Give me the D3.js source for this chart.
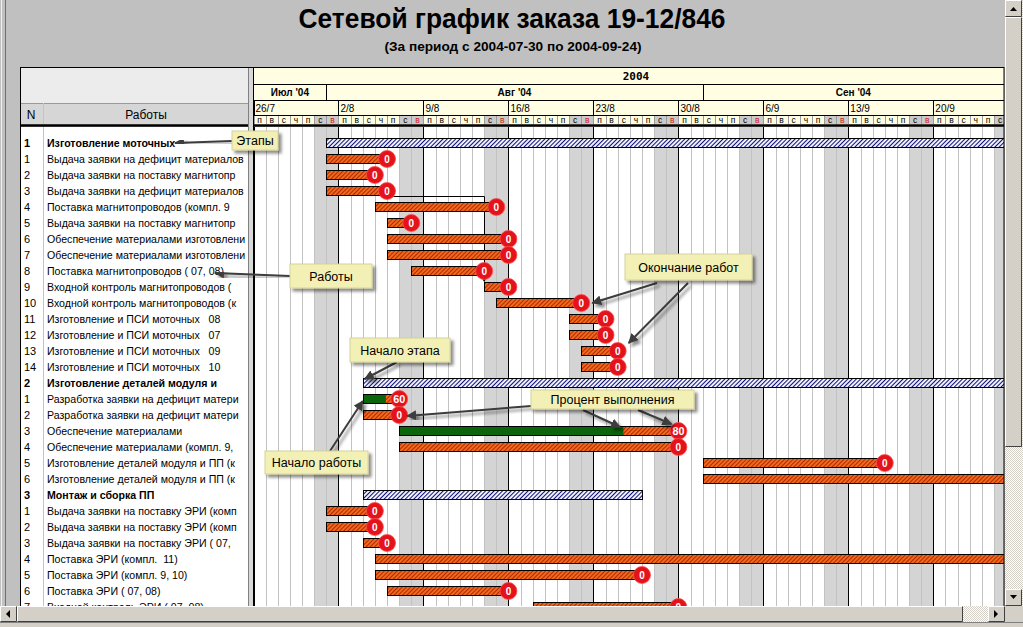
<!DOCTYPE html>
<html>
<head>
<meta charset="utf-8">
<script src="https://cdn.jsdelivr.net/npm/d3@7"></script>
<style>
  html, body { margin: 0; padding: 0; background: #c0c0c0; overflow: hidden; }
  svg { display: block; font-family: "Liberation Sans", Arial, sans-serif; }
</style>
</head>
<body>
<svg id="chart" width="1023" height="627"></svg>
<script>
// ---- data ----
const rowNums = ['1','1','2','3','4','5','6','7','8','9','10','11','12','13','14',
  '2','1','2','3','4','5','6',
  '3','1','2','3','4','5','6','7'];
const taskNames = [
  'Изготовление моточных',
  'Выдача заявки на дефицит материалов',
  'Выдача заявки на поставку магнитопр',
  'Выдача заявки на дефицит материалов',
  'Поставка магнитопроводов (компл. 9',
  'Выдача заявки на поставку магнитопр',
  'Обеспечение материалами изготовлени',
  'Обеспечение материалами изготовлени',
  'Поставка магнитопроводов ( 07, 08)',
  'Входной контроль магнитопроводов (',
  'Входной контроль магнитопроводов (к',
  'Изготовление и ПСИ моточных   08',
  'Изготовление и ПСИ моточных   07',
  'Изготовление и ПСИ моточных   09',
  'Изготовление и ПСИ моточных   10',
  'Изготовление деталей модуля и',
  'Разработка заявки на дефицит матери',
  'Разработка заявки на дефицит матери',
  'Обеспечение материалами',
  'Обеспечение материалами (компл. 9,',
  'Изготовление деталей модуля и ПП (к',
  'Изготовление деталей модуля и ПП (к',
  'Монтаж и сборка ПП',
  'Выдача заявки на поставку ЭРИ (комп',
  'Выдача заявки на поставку ЭРИ (комп',
  'Выдача заявки на поставку ЭРИ ( 07,',
  'Поставка ЭРИ (компл.  11)',
  'Поставка ЭРИ (компл. 9, 10)',
  'Поставка ЭРИ ( 07, 08)',
  'Входной контроль ЭРИ ( 07, 08)'
];
const rowKinds = ['stage','task','task','task','task','task','task','task','task','task','task','task','task','task','task',
  'stage','task','task','task','task','task','task',
  'stage','task','task','task','task','task','task','task'];
const startDates = ['2004-08-01','2004-08-01','2004-08-01','2004-08-01','2004-08-05','2004-08-06','2004-08-06','2004-08-06',
  '2004-08-08','2004-08-14','2004-08-15','2004-08-21','2004-08-21','2004-08-22','2004-08-22',
  '2004-08-04','2004-08-04','2004-08-04','2004-08-07','2004-08-07','2004-09-01','2004-09-01',
  '2004-08-04','2004-08-01','2004-08-01','2004-08-04','2004-08-05','2004-08-05','2004-08-06','2004-08-18'];
const endDates = ['2004-10-08','2004-08-06','2004-08-05','2004-08-06','2004-08-15','2004-08-08','2004-08-16','2004-08-16',
  '2004-08-14','2004-08-16','2004-08-22','2004-08-24','2004-08-24','2004-08-25','2004-08-25',
  '2004-10-08','2004-08-07','2004-08-07','2004-08-30','2004-08-30','2004-09-16','2004-10-05',
  '2004-08-27','2004-08-05','2004-08-05','2004-08-06','2004-10-05','2004-08-27','2004-08-16','2004-08-30'];
const donePct = [0,0,0,0,0,0,0,0,0,0,0,0,0,0,0,
  0,60,0,80,0,0,0,
  0,0,0,0,0,0,0,0];
const dayLetters = ['п','в','с','ч','п','с','в'];
const monthLabels = ["Июл '04", "Авг '04", "Сен '04"];
const yearLabel = '2004';

const svg = d3.select('#chart');
const W = 1023, H = 627;
const gLeft = 253.5, gRight = 1004, dayW = 12.14;
const gTop = 67, bodyTop = 127, gBottom = 606;
const t0 = new Date('2004-07-26'), t1 = new Date('2004-09-27');
const x = d3.scaleUtc().domain([t0, t1]).range([gLeft, gLeft + 63 * dayW]);
const y = d3.scaleLinear().domain([0, 1]).range([143, 159]);

const rows = taskNames.map((name, i) => ({
  i, num: rowNums[i], name, kind: rowKinds[i],
  start: new Date(startDates[i]), end: new Date(endDates[i]), pct: donePct[i]
}));

// ---- defs ----
const defs = svg.append('defs');
const hT = defs.append('pattern').attr('id', 'hatchTask').attr('patternUnits', 'userSpaceOnUse')
  .attr('width', 3).attr('height', 3).attr('patternTransform', 'rotate(45)');
hT.append('rect').attr('width', 3).attr('height', 3).attr('fill', '#f06a1e');
hT.append('line').attr('x1', 0.5).attr('x2', 0.5).attr('y1', 0).attr('y2', 3).attr('stroke', '#b02a00').attr('stroke-width', 1.1);
const hS = defs.append('pattern').attr('id', 'hatchStage').attr('patternUnits', 'userSpaceOnUse')
  .attr('width', 3).attr('height', 3).attr('patternTransform', 'rotate(45)');
hS.append('rect').attr('width', 3).attr('height', 3).attr('fill', '#f4f6ff');
hS.append('line').attr('x1', 0.5).attr('x2', 0.5).attr('y1', 0).attr('y2', 3).attr('stroke', '#10107a').attr('stroke-width', 1.1);
const chk = defs.append('pattern').attr('id', 'checker').attr('patternUnits', 'userSpaceOnUse').attr('width', 2).attr('height', 2);
chk.append('rect').attr('width', 2).attr('height', 2).attr('fill', '#ffffff');
chk.append('rect').attr('width', 1).attr('height', 1).attr('fill', '#d4d0c8');
chk.append('rect').attr('x', 1).attr('y', 1).attr('width', 1).attr('height', 1).attr('fill', '#d4d0c8');
defs.append('clipPath').attr('id', 'clipChart').append('rect')
  .attr('x', gLeft).attr('y', gTop).attr('width', gRight - gLeft).attr('height', gBottom - gTop);
defs.append('clipPath').attr('id', 'clipNames').append('rect')
  .attr('x', 44).attr('y', bodyTop).attr('width', 205).attr('height', gBottom - bodyTop);
const shadow = defs.append('filter').attr('id', 'shadow').attr('x', '-20%').attr('y', '-20%').attr('width', '150%').attr('height', '160%');
shadow.append('feDropShadow').attr('dx', 3).attr('dy', 3).attr('stdDeviation', 1.6)
  .attr('flood-color', '#000').attr('flood-opacity', 0.45);
defs.append('marker').attr('id', 'arrow').attr('viewBox', '0 0 10 10').attr('refX', 9).attr('refY', 5)
  .attr('markerWidth', 5).attr('markerHeight', 5).attr('orient', 'auto-start-reverse')
  .append('path').attr('d', 'M0,0L10,5L0,10Z').attr('fill', '#3c3c3c');

// ---- background + title ----
svg.append('rect').attr('width', W).attr('height', H).attr('fill', '#c0c0c0');
svg.append('line').attr('x1', 5.5).attr('x2', 5.5).attr('y1', 0).attr('y2', gBottom).attr('stroke', '#707070');
svg.append('line').attr('x1', 1.5).attr('x2', 1.5).attr('y1', 0).attr('y2', gBottom).attr('stroke', '#f0f0f0');

svg.append('text').attr('x', 512).attr('y', 28).attr('text-anchor', 'middle')
  .attr('font-size', 28).attr('font-weight', 'bold')
  .attr('textLength', 427).attr('lengthAdjust', 'spacingAndGlyphs')
  .text('Сетевой график заказа 19-12/846');
svg.append('text').attr('x', 513).attr('y', 51).attr('text-anchor', 'middle')
  .attr('font-size', 12.5).attr('font-weight', 'bold')
  .attr('textLength', 257).attr('lengthAdjust', 'spacingAndGlyphs')
  .text('(За период с 2004-07-30 по 2004-09-24)');

// ---- left table ----
const tbl = svg.append('g');
tbl.append('rect').attr('x', 20).attr('y', gTop).attr('width', 229).attr('height', 36).attr('fill', '#ececec');
tbl.append('rect').attr('x', 20).attr('y', 103).attr('width', 229).attr('height', 22).attr('fill', '#d6d6d6');
tbl.append('line').attr('x1', 20).attr('x2', 249).attr('y1', 103.5).attr('y2', 103.5).attr('stroke', '#9a9a9a');
tbl.append('rect').attr('x', 20).attr('y', bodyTop).attr('width', 229).attr('height', gBottom - bodyTop).attr('fill', '#fff');
tbl.append('line').attr('x1', 43.5).attr('x2', 43.5).attr('y1', 103).attr('y2', gBottom).attr('stroke', '#c4c4c4');
tbl.append('text').attr('x', 31).attr('y', 119).attr('text-anchor', 'middle').attr('font-size', 12).text('N');
tbl.append('text').attr('x', 146).attr('y', 119).attr('text-anchor', 'middle').attr('font-size', 12).text('Работы');

tbl.selectAll('text.num').data(rows).join('text').attr('class', 'num')
  .attr('x', 24).attr('y', d => y(d.i) + 4)
  .attr('font-size', 11).attr('font-weight', d => d.kind === 'stage' ? 'bold' : 'normal')
  .text(d => d.num);
tbl.append('g').attr('clip-path', 'url(#clipNames)')
  .selectAll('text').data(rows).join('text')
  .attr('x', 47).attr('y', d => y(d.i) + 4)
  .attr('font-size', 10.6).attr('font-weight', d => d.kind === 'stage' ? 'bold' : 'normal')
  .style('white-space', 'pre')
  .text(d => d.name);

// ---- chart header ----
const days = d3.utcDay.range(t0, t1);
const hdr = svg.append('g').attr('clip-path', 'url(#clipChart)');
hdr.append('rect').attr('x', gLeft).attr('y', gTop).attr('width', gRight - gLeft).attr('height', 58).attr('fill', '#fffde2');
hdr.selectAll('rect.we').data(days.filter(d => d.getUTCDay() === 0 || d.getUTCDay() === 6)).join('rect')
  .attr('class', 'we').attr('x', d => x(d)).attr('y', 115).attr('width', dayW).attr('height', 9).attr('fill', '#cacaca');
hdr.selectAll('line.dl').data(days).join('line').attr('class', 'dl')
  .attr('x1', d => Math.round(x(d)) + 0.5).attr('x2', d => Math.round(x(d)) + 0.5)
  .attr('y1', 115).attr('y2', 124).attr('stroke', '#9a9a9a');
hdr.selectAll('text.dlet').data(days).join('text').attr('class', 'dlet')
  .attr('x', d => x(d) + dayW / 2).attr('y', 122.5).attr('text-anchor', 'middle').attr('font-size', 8.5)
  .attr('fill', d => d.getUTCDay() === 0 ? '#d02020' : '#000')
  .text(d => dayLetters[(d.getUTCDay() + 6) % 7]);

const mondays = d3.utcMonday.range(t0, t1);
hdr.selectAll('line.wk').data(mondays).join('line').attr('class', 'wk')
  .attr('x1', d => Math.round(x(d)) + 0.5).attr('x2', d => Math.round(x(d)) + 0.5)
  .attr('y1', 100).attr('y2', 115).attr('stroke', '#000');
hdr.selectAll('text.wk').data(mondays).join('text').attr('class', 'wk')
  .attr('x', d => x(d) + 2).attr('y', 112).attr('font-size', 10)
  .text(d3.utcFormat('%-d/%-m'));

const months = d3.utcMonth.range(d3.utcMonth.floor(t0), t1);
hdr.selectAll('line.mo').data(months.slice(1)).join('line').attr('class', 'mo')
  .attr('x1', d => Math.round(x(d)) + 0.5).attr('x2', d => Math.round(x(d)) + 0.5)
  .attr('y1', 84).attr('y2', 100).attr('stroke', '#000');
hdr.selectAll('text.mo').data(months).join('text').attr('class', 'mo')
  .attr('x', d => {
    const a = Math.max(gLeft, x(d)), b = Math.min(gRight, x(d3.utcMonth.offset(d, 1)));
    return (a + b) / 2;
  })
  .attr('y', 96).attr('text-anchor', 'middle').attr('font-size', 10).attr('font-weight', 'bold')
  .text((d, i) => monthLabels[i]);
hdr.append('text').attr('x', 636).attr('y', 80).attr('text-anchor', 'middle')
  .attr('font-size', 11).attr('font-weight', 'bold').attr('font-family', '"DejaVu Sans Mono", monospace')
  .text(yearLabel);
[84.5, 100.5, 115.5].forEach(v => hdr.append('line').attr('x1', gLeft).attr('x2', gRight)
  .attr('y1', v).attr('y2', v).attr('stroke', '#000'));

// ---- chart body grid ----
const body = svg.append('g').attr('clip-path', 'url(#clipChart)');
body.append('rect').attr('x', gLeft).attr('y', bodyTop).attr('width', gRight - gLeft).attr('height', gBottom - bodyTop).attr('fill', '#fff');
body.selectAll('rect.we').data(days.filter(d => d.getUTCDay() === 0 || d.getUTCDay() === 6)).join('rect')
  .attr('class', 'we').attr('x', d => x(d)).attr('y', bodyTop).attr('width', dayW)
  .attr('height', gBottom - bodyTop).attr('fill', '#d4d4d4');
body.selectAll('line.dl').data(days).join('line').attr('class', 'dl')
  .attr('x1', d => Math.round(x(d)) + 0.5).attr('x2', d => Math.round(x(d)) + 0.5)
  .attr('y1', bodyTop).attr('y2', gBottom).attr('stroke', '#c2c2c2');
body.selectAll('line.wk').data(mondays).join('line').attr('class', 'wk')
  .attr('x1', d => Math.round(x(d)) + 0.5).attr('x2', d => Math.round(x(d)) + 0.5)
  .attr('y1', bodyTop).attr('y2', gBottom).attr('stroke', '#000');

// dependency link (row 3 -> row 9)
body.append('path')
  .attr('d', `M${x(rows[3].end)},196.5H${Math.round(x(rows[9].start)) + 0.5}V${y(9) - 6}`)
  .attr('fill', 'none').attr('stroke', '#000');
body.append('path')
  .attr('d', `M${x(rows[9].start) - 3},${y(9) - 10}L${x(rows[9].start) + 3},${y(9) - 10}L${x(rows[9].start)},${y(9) - 5}Z`)
  .attr('fill', '#000');

// ---- bars ----
const bars = body.append('g');
bars.selectAll('rect.bar').data(rows).join('rect').attr('class', 'bar')
  .attr('x', d => Math.round(x(d.start)) + 0.5)
  .attr('y', d => y(d.i) - 4.5)
  .attr('width', d => x(d.end) - Math.round(x(d.start)))
  .attr('height', 9)
  .attr('fill', d => d.kind === 'stage' ? 'url(#hatchStage)' : 'url(#hatchTask)')
  .attr('stroke', '#000').attr('stroke-width', 1);
bars.selectAll('rect.done').data(rows.filter(d => d.pct > 0)).join('rect').attr('class', 'done')
  .attr('x', d => Math.round(x(d.start)) + 1)
  .attr('y', d => y(d.i) - 4)
  .attr('width', d => (x(d.end) - x(d.start)) * d.pct / 100)
  .attr('height', 8).attr('fill', '#0b650b');

const ends = rows.filter(d => d.kind === 'task' && x(d.end) < gRight);
bars.selectAll('circle').data(ends).join('circle')
  .attr('cx', d => x(d.end)).attr('cy', d => y(d.i)).attr('r', 8.5)
  .attr('fill', '#e4121a').attr('stroke', '#ff5050').attr('stroke-width', 0.8);
bars.selectAll('text').data(ends).join('text')
  .attr('x', d => x(d.end)).attr('y', d => y(d.i) + 4)
  .attr('text-anchor', 'middle').attr('font-size', 10).attr('font-weight', 'bold').attr('fill', '#fff')
  .attr('textLength', d => d.pct > 0 ? 12 : null).attr('lengthAdjust', 'spacingAndGlyphs')
  .text(d => d.pct);

// frame lines
svg.append('line').attr('x1', 20).attr('x2', gRight).attr('y1', 125.5).attr('y2', 125.5).attr('stroke', '#000').attr('stroke-width', 2.5);
svg.append('rect').attr('x', 249).attr('y', gTop).attr('width', 4).attr('height', gBottom - gTop).attr('fill', '#d8d8d8');
svg.append('line').attr('x1', 253.5).attr('x2', 253.5).attr('y1', gTop).attr('y2', gBottom).attr('stroke', '#000');
svg.append('line').attr('x1', 248.5).attr('x2', 248.5).attr('y1', gTop).attr('y2', gBottom).attr('stroke', '#808080');
svg.append('rect').attr('x', 20.5).attr('y', gTop + 0.5).attr('width', gRight - 20.5).attr('height', gBottom - gTop)
  .attr('fill', 'none').attr('stroke', '#000');

// ---- callouts ----
const callouts = [
  { text: 'Этапы', x: 232, y: 131, w: 46, h: 19, arrows: [[232, 141, 175, 143]] },
  { text: 'Работы', x: 290, y: 264, w: 82, h: 24, arrows: [[290, 276, 215, 273]] },
  { text: 'Окончание работ', x: 625, y: 254, w: 127, h: 26,
    arrows: [[657, 283, x(rows[10].end) + 11, y(10)], [688, 283, x(rows[13].end) + 11, y(13) - 8]] },
  { text: 'Начало этапа', x: 350, y: 338, w: 100, h: 24, arrows: [[397, 362, x(rows[15].start) + 2, y(15) - 4]] },
  { text: 'Процент выполнения', x: 531, y: 390, w: 163, h: 19,
    arrows: [[531, 399, x(rows[16].end) + 8, y(16)], [531, 406, x(rows[17].end) + 8, y(17) + 1],
             [583, 410, 620, y(18) - 4], [638, 410, x(rows[18].end) - 7, y(18) - 7]] },
  { text: 'Начало работы', x: 265, y: 451, w: 103, h: 23, arrows: [[330, 451, x(rows[16].start), y(16) + 2]] }
];
const cg = svg.append('g');
callouts.forEach(c => {
  const g = cg.append('g');
  c.arrows.forEach(a => g.append('line')
    .attr('x1', a[0]).attr('y1', a[1]).attr('x2', a[2]).attr('y2', a[3])
    .attr('stroke', '#3c3c3c').attr('stroke-width', 2).attr('marker-end', 'url(#arrow)')
    .attr('filter', 'url(#shadow)'));
  g.append('rect').attr('x', c.x).attr('y', c.y).attr('width', c.w).attr('height', c.h)
    .attr('fill', '#f3f0b6').attr('stroke', '#d6d29a').attr('filter', 'url(#shadow)');
  g.append('text').attr('x', c.x + c.w / 2).attr('y', c.y + c.h / 2 + 4.5).attr('text-anchor', 'middle')
    .attr('font-size', 12.5).text(c.text);
});

// ---- scrollbars ----
const sb = svg.append('g');
function button(xx, yy, w, h) {
  sb.append('rect').attr('x', xx).attr('y', yy).attr('width', w).attr('height', h).attr('fill', '#d4d0c8');
  sb.append('path').attr('d', `M${xx + 0.5},${yy + h - 0.5}V${yy + 0.5}H${xx + w - 0.5}`).attr('fill', 'none').attr('stroke', '#fff');
  sb.append('path').attr('d', `M${xx + 0.5},${yy + h - 0.5}H${xx + w - 0.5}V${yy + 0.5}`).attr('fill', 'none').attr('stroke', '#404040');
}
sb.append('rect').attr('x', 1005).attr('y', 0).attr('width', 18).attr('height', gBottom).attr('fill', 'url(#checker)');
button(1005, 0, 17, 17);
button(1005, 17, 17, 430);
button(1005, 589, 17, 17);
sb.append('path').attr('d', 'M1010,11L1013.5,7L1017,11Z').attr('fill', '#000');
sb.append('path').attr('d', 'M1010,595L1013.5,599L1017,595Z').attr('fill', '#000');
sb.append('rect').attr('x', 0).attr('y', gBottom).attr('width', 1005).attr('height', 16).attr('fill', 'url(#checker)');
button(0, gBottom, 17, 16);
button(17, gBottom, 946, 16);
button(988, gBottom, 17, 16);
sb.append('path').attr('d', `M10,${gBottom + 4}L6,${gBottom + 8}L10,${gBottom + 12}Z`).attr('fill', '#000');
sb.append('path').attr('d', `M994,${gBottom + 4}L998,${gBottom + 8}L994,${gBottom + 12}Z`).attr('fill', '#000');
sb.append('rect').attr('x', 1005).attr('y', gBottom).attr('width', 18).attr('height', 16).attr('fill', '#d4d0c8');
sb.append('rect').attr('x', 0).attr('y', gBottom + 16).attr('width', W).attr('height', 5).attr('fill', '#d4d0c8');
sb.append('line').attr('x1', 0).attr('x2', W).attr('y1', gBottom + 16.5).attr('y2', gBottom + 16.5).attr('stroke', '#808080');
</script>
</body>
</html>
